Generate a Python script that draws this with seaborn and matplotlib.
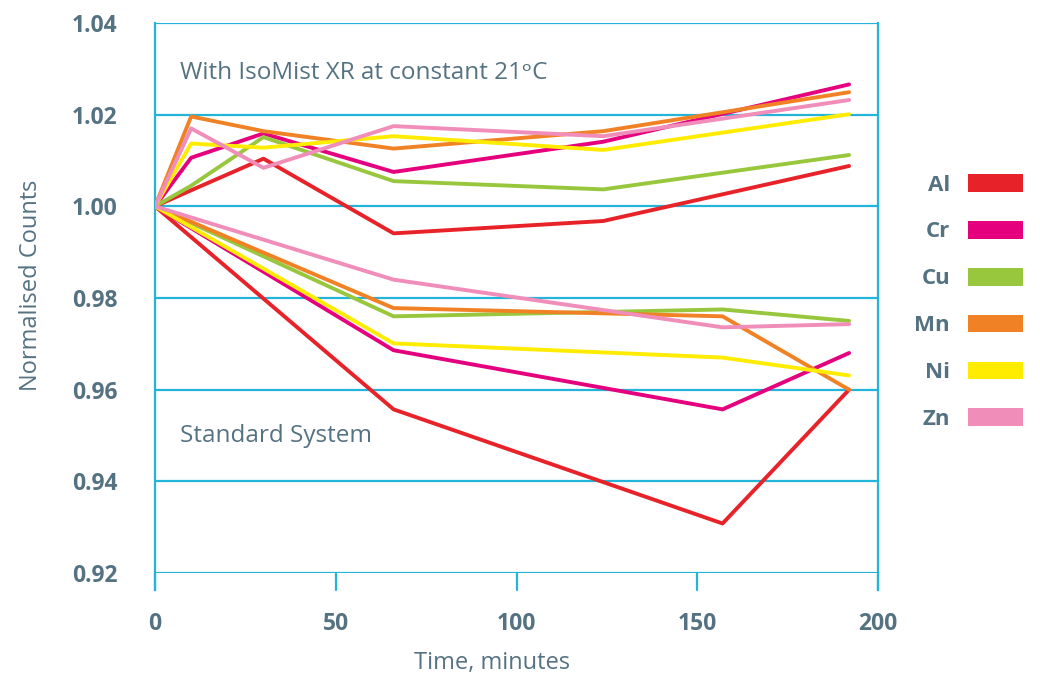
import matplotlib
matplotlib.use("Agg")
import matplotlib.pyplot as plt
from matplotlib.patches import Patch
import seaborn as sns
import pandas as pd

# ---- data ----
elements = ["Al", "Cr", "Cu", "Mn", "Ni", "Zn"]
colors = ["#E82229", "#E5007D", "#98C73D", "#F08124", "#FFEC00", "#F08DB9"]

iso_time = [0, 10, 30, 66, 124, 192]
iso_al = [1.0, 1.0035, 1.0104, 0.9941, 0.9968, 1.0088]
iso_cr = [1.0, 1.0106, 1.0159, 1.0075, 1.0141, 1.0266]
iso_cu = [1.0, 1.0045, 1.0151, 1.0055, 1.0037, 1.0112]
iso_mn = [1.0, 1.0196, 1.0164, 1.0126, 1.0164, 1.0249]
iso_ni = [1.0, 1.0137, 1.0128, 1.0153, 1.0123, 1.0201]
iso_zn = [1.0, 1.0170, 1.0084, 1.0175, 1.0153, 1.0232]

std_time = [0, 66, 157, 192]
std_al = [1.0, 0.9557, 0.9308, 0.9600]
std_cr = [1.0, 0.9686, 0.9557, 0.9680]
std_cu = [1.0, 0.9760, 0.9775, 0.9750]
std_mn = [1.0, 0.9778, 0.9760, 0.9600]
std_ni = [1.0, 0.9701, 0.9670, 0.9631]
std_zn = [1.0, 0.9840, 0.9736, 0.9743]

x_ticks = [0, 50, 100, 150, 200]
y_ticks = [0.92, 0.94, 0.96, 0.98, 1.00, 1.02, 1.04]

iso_vals = [iso_al, iso_cr, iso_cu, iso_mn, iso_ni, iso_zn]
std_vals = [std_al, std_cr, std_cu, std_mn, std_ni, std_zn]

rows = []
for el, iv, sv in zip(elements, iso_vals, std_vals):
    for t, v in zip(iso_time, iv):
        rows.append({"time": t, "value": v, "element": el, "system": "IsoMist"})
    for t, v in zip(std_time, sv):
        rows.append({"time": t, "value": v, "element": el, "system": "Standard"})
df = pd.DataFrame(rows)

# ---- style ----
sns.set_style("white")
plt.rcParams["font.family"] = ["Open Sans", "DejaVu Sans"]
txt = "#557282"
grid = "#23B4DA"

fig = plt.figure(figsize=(10.4, 6.88), dpi=100)
ax = fig.add_axes([155 / 1040, 1 - 573 / 688, (878 - 155) / 1040, (573 - 23) / 688])

palette = dict(zip(elements, colors))
sns.lineplot(data=df, x="time", y="value", hue="element", units="system",
             estimator=None, sort=False, palette=palette, linewidth=2.8,
             legend=False, ax=ax)
ax.set_xlabel("")
ax.set_ylabel("")

ax.set_xlim(0, 200)
ax.set_ylim(0.92, 1.04)
ax.set_xticks(x_ticks)
ax.set_xticklabels([str(v) for v in x_ticks])
ax.set_yticks(y_ticks)
ax.set_yticklabels([f"{v:.2f}" for v in y_ticks])

for y in y_ticks:
    ax.axhline(y, color=grid, lw=1.6, zorder=0)

for side in ["top", "bottom"]:
    ax.spines[side].set_visible(False)
for side in ["left", "right"]:
    ax.spines[side].set_color(grid)
    ax.spines[side].set_linewidth(1.6)
    ax.spines[side].set_bounds(0.92 - 0.0037, 1.04)
ax.spines["left"].set_zorder(0)

ax.tick_params(axis="both", which="both", length=16, width=1.6, color=grid,
               labelcolor=txt, labelsize=16.5, pad=11)
for lab in ax.get_xticklabels() + ax.get_yticklabels():
    lab.set_fontweight("bold")
ax.tick_params(axis="x", length=0, pad=28)
for x in x_ticks:
    ax.plot([x, x], [0.92, 0.92 - 0.0037], color=grid, lw=1.6, clip_on=False, zorder=0)

fig.text(492 / 1040, 1 - 663 / 688, "Time, minutes", color=txt, fontsize=17,
         ha="center", va="center")
fig.text(31 / 1040, 1 - 285 / 688, "Normalised Counts", color=txt, fontsize=17,
         ha="center", va="center", rotation=90)

ax.text(25 / 723, 0.909, "With IsoMist XR at constant 21ᵒC", transform=ax.transAxes,
        color=txt, fontsize=17.5, va="center", ha="left")
ax.text(25 / 723, 0.249, "Standard System", transform=ax.transAxes,
        color=txt, fontsize=17.5, va="center", ha="left")

handles = [Patch(facecolor=c, edgecolor="none", label=e) for e, c in zip(elements, colors)]
leg = fig.legend(handles=handles, loc="upper right", bbox_to_anchor=(1043 / 1040, 1 - 154 / 688),
                 frameon=False, markerfirst=False, handlelength=2.48, handleheight=0.85,
                 labelspacing=1.14, handletextpad=0.8,
                 prop={"weight": "bold", "size": 16})
for t in leg.get_texts():
    t.set_color(txt)

fig.savefig("out.png", dpi=100)
